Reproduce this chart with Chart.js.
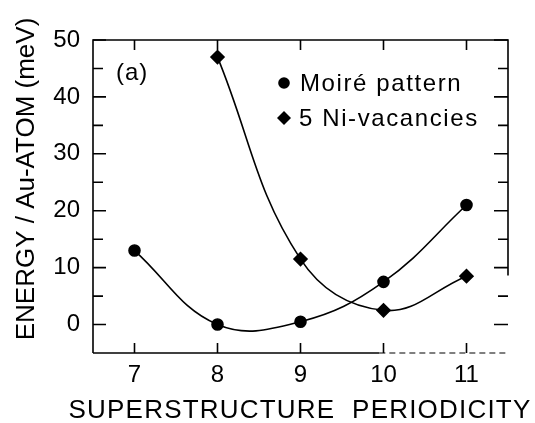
<!DOCTYPE html>
<html><head><meta charset="utf-8">
<script src="https://cdn.jsdelivr.net/npm/chart.js@4"></script>
<style>html,body{margin:0;padding:0;background:#fff}#wrap{width:535px;height:423px;position:relative}</style>
</head><body><div id="wrap"><canvas id="c" width="535" height="423"></canvas></div>
<script>
const periodicity = [7, 8, 9, 10, 11];
const moireEnergy = [13, 0, 0.5, 7.5, 21];
const niPeriodicity = [8, 9, 10, 11];
const niEnergy = [47, 11.5, 2.5, 8.5];
const xTickValues = [7, 8, 9, 10, 11];
const yTickValues = [0, 10, 20, 30, 40, 50];
const yMinorValues = [5, 15, 25, 35, 45];
const seriesLabels = ['Moiré pattern', '5 Ni-vacancies'];
const panelLabel = '(a)';
const xTitle = 'SUPERSTRUCTURE  PERIODICITY';
const yTitle = 'ENERGY / Au-ATOM (meV)';

const FONT = '"Liberation Sans", Arial, Helvetica, sans-serif';

const decor = {
  id: 'decor',
  afterDraw(chart) {
    const ctx = chart.ctx;
    const xs = chart.scales.x, ys = chart.scales.y;
    const a = chart.chartArea;
    ctx.save();
    ctx.strokeStyle = '#000';
    ctx.fillStyle = '#000';
    ctx.lineWidth = 1.6;
    // frame
    ctx.beginPath();
    ctx.moveTo(a.left, a.bottom); ctx.lineTo(a.left, a.top); ctx.lineTo(a.right, a.top);
    ctx.lineTo(a.right, ys.getPixelForValue(8.6));
    ctx.stroke();
    const bx = xs.getPixelForValue(9.95);
    ctx.beginPath(); ctx.moveTo(a.left, a.bottom); ctx.lineTo(bx, a.bottom); ctx.stroke();
    ctx.save(); ctx.setLineDash([6, 4]); ctx.lineWidth = 1.2;
    ctx.beginPath(); ctx.moveTo(bx, a.bottom); ctx.lineTo(a.right, a.bottom); ctx.stroke();
    ctx.restore();
    // y ticks
    yTickValues.forEach(v => {
      const y = ys.getPixelForValue(v);
      ctx.beginPath(); ctx.moveTo(a.left, y); ctx.lineTo(a.left + 13, y);
      ctx.moveTo(a.right - 14, y); ctx.lineTo(a.right, y); ctx.stroke();
    });
    yMinorValues.forEach(v => {
      const y = ys.getPixelForValue(v);
      ctx.beginPath(); ctx.moveTo(a.left, y); ctx.lineTo(a.left + 10, y);
      ctx.moveTo(a.right - 10, y); ctx.lineTo(a.right, y); ctx.stroke();
    });
    // x ticks
    xTickValues.forEach(v => {
      const x = xs.getPixelForValue(v);
      ctx.beginPath(); ctx.moveTo(x, a.top); ctx.lineTo(x, a.top + 10);
      ctx.moveTo(x, a.bottom); ctx.lineTo(x, a.bottom - 10); ctx.stroke();
    });
    // titles
    ctx.textBaseline = 'middle';
    ctx.textAlign = 'center';
    ctx.font = '26px ' + FONT;
    ctx.letterSpacing = '1.2px';
    ctx.fillText(xTitle, 300, 411);
    ctx.save();
    ctx.translate(27, 179);
    ctx.rotate(-Math.PI / 2);
    ctx.letterSpacing = '0px';
    ctx.fillText(yTitle, 0, 0);
    ctx.restore();
    // panel label
    ctx.textAlign = 'left';
    ctx.font = '24px ' + FONT;
    ctx.letterSpacing = '1px';
    ctx.fillText(panelLabel, 116, 73);
    // legend
    ctx.letterSpacing = '1.6px';
    ctx.beginPath(); ctx.arc(284, 83, 5.8, 0, Math.PI * 2); ctx.fill();
    ctx.fillText(seriesLabels[0], 300, 84);
    ctx.beginPath(); ctx.moveTo(284, 111); ctx.lineTo(291, 118); ctx.lineTo(284, 125); ctx.lineTo(277, 118); ctx.closePath(); ctx.fill();
    ctx.fillText(seriesLabels[1], 299, 119);
    ctx.restore();
  }
};

new Chart(document.getElementById('c'), {
  type: 'line',
  data: {
    datasets: [
      {
        label: seriesLabels[0],
        data: periodicity.map((x, i) => ({x, y: moireEnergy[i]})),
        borderColor: '#000', backgroundColor: '#000', borderWidth: 1.6,
        pointStyle: 'circle', pointRadius: 5.5, tension: 0.4, fill: false
      },
      {
        label: seriesLabels[1],
        data: niPeriodicity.map((x, i) => ({x, y: niEnergy[i]})),
        borderColor: '#000', backgroundColor: '#000', borderWidth: 1.6,
        pointStyle: 'rectRot', pointRadius: 6.5, tension: 0.4, fill: false
      }
    ]
  },
  options: {
    responsive: false, animation: false, devicePixelRatio: 1,
    layout: {padding: {top: 40, right: 27, left: 0, bottom: 0}},
    plugins: {legend: {display: false}, tooltip: {enabled: false}},
    scales: {
      x: {
        type: 'linear', min: 6.5, max: 11.5,
        afterBuildTicks: s => { s.ticks = xTickValues.map(v => ({value: v})); },
        afterFit: s => { s.height = 70; },
        grid: {display: false, drawTicks: false}, border: {display: false},
        ticks: {color: '#000', font: {family: FONT, size: 24}, padding: 8}
      },
      y: {
        min: -5, max: 50,
        afterBuildTicks: s => { s.ticks = yTickValues.map(v => ({value: v})); },
        afterFit: s => { s.width = 93; },
        grid: {display: false, drawTicks: false}, border: {display: false},
        ticks: {color: '#000', font: {family: FONT, size: 24}, padding: 13}
      }
    }
  },
  plugins: [decor]
});
</script></body></html>
